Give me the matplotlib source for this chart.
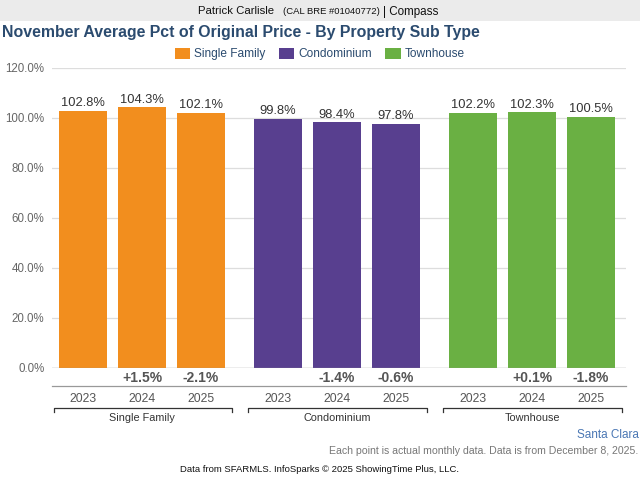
import matplotlib
matplotlib.use("Agg")
import matplotlib.pyplot as plt
from matplotlib.patches import Patch, Rectangle
from matplotlib.lines import Line2D

plt.rcParams['font.family'] = ['Liberation Sans', 'DejaVu Sans']

groups = ["Single Family", "Condominium", "Townhouse"]
years = ["2023", "2024", "2025"]
values = {
    "Single Family": [102.8, 104.3, 102.1],
    "Condominium": [99.8, 98.4, 97.8],
    "Townhouse": [102.2, 102.3, 100.5],
}
changes = {
    "Single Family": ["", "+1.5%", "-2.1%"],
    "Condominium": ["", "-1.4%", "-0.6%"],
    "Townhouse": ["", "+0.1%", "-1.8%"],
}
colors = {"Single Family": "#F28E1E", "Condominium": "#583F8F", "Townhouse": "#6AB043"}
yticks = [0, 20, 40, 60, 80, 100, 120]

title = "November Average Pct of Original Price - By Property Sub Type"
header_main = "Patrick Carlisle"
header_small = "(CAL BRE #01040772)"
header_end = "| Compass"
region = "Santa Clara"
note = "Each point is actual monthly data. Data is from December 8, 2025."
source = "Data from SFARMLS. InfoSparks \u00a9 2025 ShowingTime Plus, LLC."

fig = plt.figure(figsize=(6.4, 4.8), dpi=100)
fig.patch.set_facecolor("white")

# header band
fig.patches.append(Rectangle((0, 1 - 21/480), 1, 21/480, transform=fig.transFigure,
                             facecolor="#EBEBEB", edgecolor="none", zorder=0))
hy = 1 - 11.5/480
fig.text(198/640, hy, header_main, ha="left", va="center", fontsize=8.2, color="#111111")
fig.text(283/640, hy - 0.5/480, header_small, ha="left", va="center", fontsize=6.8, color="#111111")
fig.text(383/640, hy, header_end, ha="left", va="center", fontsize=8.4, color="#111111")

fig.text(2/640, 1 - 33/480, title, ha="left", va="center", fontsize=11.4, fontweight="bold", color="#2B4B6F")

handles = [Patch(facecolor=colors[g], edgecolor="none", label=g) for g in groups]
leg = fig.legend(handles=handles, loc="center", bbox_to_anchor=(0.5, 1 - 54/480), ncol=3,
                 frameon=False, fontsize=8.6, handlelength=1.3, handleheight=1.15,
                 columnspacing=1.1, handletextpad=0.35)
for t in leg.get_texts():
    t.set_color("#2B4B6F")

ax = fig.add_axes([52/640, 112/480, 574/640, 300/480])
gstep = 3.305
tr = ax.get_xaxis_transform()
for gi, g in enumerate(groups):
    xs = [gi * gstep + j for j in range(3)]
    ax.bar(xs, values[g], width=48/59, color=colors[g], zorder=2)
    for x, v, c, yr in zip(xs, values[g], changes[g], years):
        ax.text(x, v + 0.6, f"{v:.1f}%", ha="center", va="bottom", fontsize=9.3, color="#333333")
        ax.text(x, -0.035, c, transform=tr, ha="center", va="center",
                fontsize=10, fontweight="bold", color="#555555", clip_on=False)
        ax.text(x, -0.104, yr, transform=tr, ha="center", va="center",
                fontsize=8.8, color="#555555", clip_on=False)
    x0 = gi * gstep - 0.5
    x1 = gi * gstep + 2.52
    ax.add_line(Line2D([x0, x0, x1, x1], [-0.147, -0.133, -0.133, -0.147], transform=tr,
                       color="#333333", lw=0.9, clip_on=False))
    ax.text(gi * gstep + 1, -0.168, g, transform=tr, ha="center", va="center",
            fontsize=7.8, color="#333333", clip_on=False)

ax.set_xlim((52 - 83) / 59, (626 - 83) / 59)
ax.set_ylim(0, 120)
ax.set_yticks(yticks)
ax.set_yticklabels([f"{t:.1f}%" for t in yticks])
ax.tick_params(axis="y", length=0, labelsize=8.3, labelcolor="#666666", pad=5.5)
ax.tick_params(axis="x", length=0, labelbottom=False)
ax.grid(axis="y", color="#DDDDDD", lw=0.9, zorder=0)
for s in ax.spines.values():
    s.set_visible(False)
ax.axhline(0, color="#999999", lw=0.9, zorder=3)
ax.add_line(Line2D([0, 1], [-0.061, -0.061], transform=ax.transAxes, color="#999999", lw=0.9, clip_on=False))

fig.text(639/640, 1 - 435/480, region, ha="right", va="center", fontsize=8.5, color="#4A77B4")
fig.text(638/640, 1 - 451/480, note, ha="right", va="center", fontsize=7.6, color="#777777")
fig.text(0.5, 1 - 469/480, source, ha="center", va="center", fontsize=6.8, color="#111111")

fig.savefig("out.png", dpi=100)
